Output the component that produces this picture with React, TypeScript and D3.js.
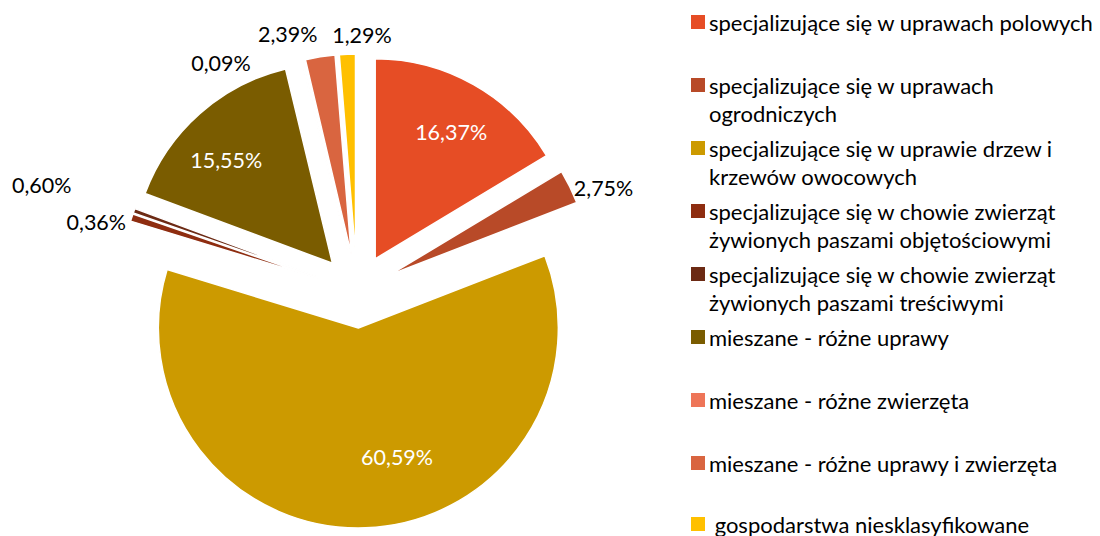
import React from "react";
import * as d3 from "d3";

const categories = [
  "specjalizujące się w uprawach polowych",
  "specjalizujące się w uprawach ogrodniczych",
  "specjalizujące się w uprawie drzew i krzewów owocowych",
  "specjalizujące się w chowie zwierząt żywionych paszami objętościowymi",
  "specjalizujące się w chowie zwierząt żywionych paszami treściwymi",
  "mieszane - różne uprawy",
  "mieszane - różne zwierzęta",
  "mieszane - różne uprawy i zwierzęta",
  "gospodarstwa niesklasyfikowane",
];
const legendLines = [
  ["specjalizujące się w uprawach polowych"],
  ["specjalizujące się w uprawach", "ogrodniczych"],
  ["specjalizujące się w uprawie drzew i", "krzewów owocowych"],
  ["specjalizujące się w chowie zwierząt", "żywionych paszami objętościowymi"],
  ["specjalizujące się w chowie zwierząt", "żywionych paszami treściwymi"],
  ["mieszane - różne uprawy"],
  ["mieszane - różne zwierzęta"],
  ["mieszane - różne uprawy i zwierzęta"],
  [" gospodarstwa niesklasyfikowane"],
];
const values = [16.37, 2.75, 60.59, 0.6, 0.36, 15.55, 0.09, 2.39, 1.29];
const labels = ["16,37%", "2,75%", "60,59%", "0,60%", "0,36%", "15,55%", "0,09%", "2,39%", "1,29%"];
const colors = ["#E64D25", "#B84A28", "#CC9A00", "#8E2D10", "#6C2A14", "#7A5C00", "#EE7558", "#D96540", "#FFC000"];
const insideLabel = [true, false, true, false, false, true, false, false, false];
const labelNudge: [number, number][] = [
  [12, -13.5], [14, 11], [34, -1], [-69, -25.5], [-17, 19], [-20, -6], [-76, 24], [-29, -1], [15.5, 3],
];

const W = 1100, H = 536;
const cx = 357, cy = 291, R = 200, EXPLODE = 37;
const FONT = "Lato, 'Open Sans', sans-serif";

export default function App() {
  const pie = d3.pie<number>().sort(null).value((d) => d).startAngle(0).endAngle(2 * Math.PI);
  const arcs = pie(values);
  const arc = d3.arc<d3.PieArcDatum<number>>().innerRadius(0).outerRadius(R);

  const legendY = d3.scaleLinear().domain([0, 1]).range([22, 22 + 63]);

  return (
    <svg width={W} height={H} style={{ position: "absolute", left: 0, top: 0, background: "#fff" }} fontFamily={FONT}>
      <g transform={`translate(${cx},${cy})`}>
        {arcs.map((a, i) => {
          const m = (a.startAngle + a.endAngle) / 2;
          const dx = Math.sin(m) * EXPLODE, dy = -Math.cos(m) * EXPLODE;
          return (
            <path key={i} d={arc(a) || ""} transform={`translate(${dx},${dy})`} fill={colors[i]} stroke="#fff" strokeWidth={1.5} strokeLinejoin="round" />
          );
        })}
        {arcs.map((a, i) => {
          const m = (a.startAngle + a.endAngle) / 2;
          const lr = EXPLODE + (insideLabel[i] ? R * 0.65 : R + 22);
          const x = Math.sin(m) * lr + labelNudge[i][0];
          const y = -Math.cos(m) * lr + labelNudge[i][1];
          return (
            <text key={i} x={x} y={y} textAnchor="middle" dominantBaseline="central" fontSize={21.5} fill={insideLabel[i] ? "#fff" : "#000"}>
              {labels[i]}
            </text>
          );
        })}
      </g>
      <g>
        {categories.map((c, i) => {
          const y = Math.min(legendY(i), 524);
          return (
            <g key={c}>
              <rect x={691} y={y - 7} width={14} height={14} fill={colors[i]} />
              {legendLines[i].map((ln, j) => (
                <text key={j} x={709} y={y + j * 28} dominantBaseline="central" fontSize={22} fill="#000" style={{ whiteSpace: "pre" }}>
                  {ln}
                </text>
              ))}
            </g>
          );
        })}
      </g>
    </svg>
  );
}
